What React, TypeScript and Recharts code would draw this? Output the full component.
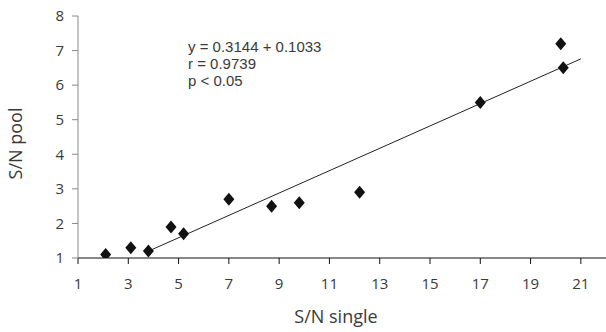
import React from 'react';
import { ScatterChart, Scatter, XAxis, YAxis } from 'recharts';

// S/N single vs S/N pool
const singleX = [2.1, 3.1, 3.8, 4.7, 5.2, 7.0, 8.7, 9.8, 12.2, 17.0, 20.2, 20.3];
const poolY = [1.1, 1.3, 1.2, 1.9, 1.7, 2.7, 2.5, 2.6, 2.9, 5.5, 7.2, 6.5];

// regression line end points
const fitX = [3.9, 21];
const fitY = [1.23, 6.76];

const xTicks = [1, 3, 5, 7, 9, 11, 13, 15, 17, 19, 21];
const yTicks = [1, 2, 3, 4, 5, 6, 7, 8];

const statsLines = ['y = 0.3144 + 0.1033', 'r = 0.9739', 'p < 0.05'];

const points = singleX.map((x, i) => ({ x, y: poolY[i] }));
const fitLine = fitX.map((x, i) => ({ x, y: fitY[i] }));

const Diamond = (props: any) => {
    const { cx, cy } = props;
    if (cx == null || cy == null) return <g />;
    return (
        <polygon
            points={`${cx},${cy - 6.5} ${cx + 5.5},${cy} ${cx},${cy + 6.5} ${cx - 5.5},${cy}`}
            fill="#111"
        />
    );
};

const NoDot = () => <g />;

const font = '"Open Sans", sans-serif';
// tighter line box so the stacked stats lines don't collide
const statsFont = '"Liberation Sans", Arial, sans-serif';
const textColor = '#3a3a3a';

export default function App() {
    return (
        <div style={{ position: 'absolute', left: 0, top: 0, width: 606, height: 332, background: '#fff', fontFamily: font }}>
            <ScatterChart width={606} height={332} margin={{ top: 16, right: 0, bottom: 0, left: 0 }}>
                <XAxis
                    type="number"
                    dataKey="x"
                    domain={[1, 22]}
                    ticks={xTicks}
                    allowDataOverflow
                    height={74}
                    tickSize={6}
                    tickMargin={14}
                    axisLine={{ stroke: '#111' }}
                    tickLine={{ stroke: '#111' }}
                    tick={{ fill: textColor, fontSize: 15, fontFamily: font }}
                />
                <YAxis
                    type="number"
                    dataKey="y"
                    domain={[1, 8]}
                    ticks={yTicks}
                    allowDataOverflow
                    width={78}
                    tickSize={6}
                    tickMargin={8}
                    axisLine={{ stroke: '#888' }}
                    tickLine={{ stroke: '#888' }}
                    tick={{ fill: textColor, fontSize: 15, fontFamily: font }}
                />
                <Scatter data={fitLine} line={{ stroke: '#222', strokeWidth: 1 }} shape={NoDot} isAnimationActive={false} />
                <Scatter data={points} shape={Diamond} isAnimationActive={false} />
            </ScatterChart>
            <svg width={606} height={332} style={{ position: 'absolute', left: 0, top: 0, pointerEvents: 'none' }}>
                {statsLines.map((t, i) => (
                    <text key={t} x={188} y={52 + i * 17} fontSize={15} fill={textColor} fontFamily={statsFont}>
                        {t}
                    </text>
                ))}
                <text x={336} y={323} fontSize={18} fill={textColor} textAnchor="middle" fontFamily={font}>
                    S/N single
                </text>
                <text x={21.5} y={143.5} fontSize={18} fill={textColor} textAnchor="middle" fontFamily={font} transform="rotate(-90 21.5 143.5)">
                    S/N pool
                </text>
            </svg>
        </div>
    );
}
